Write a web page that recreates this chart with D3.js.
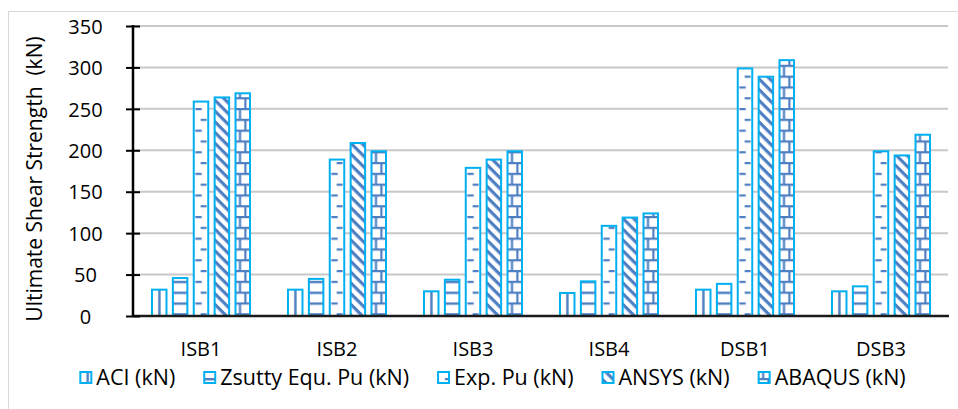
<!DOCTYPE html>
<html>
<head>
<meta charset="utf-8">
<script src="https://cdn.jsdelivr.net/npm/d3@7"></script>
<style>
  html, body { margin: 0; padding: 0; background: #fff; }
  svg { display: block; font-family: "Open Sans", "Noto Sans", sans-serif; }
  text { white-space: pre; fill: #000; }
</style>
</head>
<body>
<svg id="chart" width="958" height="409"></svg>
<script>
// Specimens and the five strength estimates for each one (kN)
const categories = ["ISB1", "ISB2", "ISB3", "ISB4", "DSB1", "DSB3"];
const seriesNames = ["ACI (kN)", "Zsutty Equ. Pu (kN)", "Exp. Pu (kN)", "ANSYS (kN)", "ABAQUS (kN)"];
const aciValues    = [33, 33, 31, 29, 33, 31];
const zsuttyValues = [47, 46, 45, 43, 40, 37];
const expValues    = [260, 190, 180, 110, 300, 200];
const ansysValues  = [265, 210, 190, 120, 290, 195];
const abaqusValues = [270, 200, 200, 125, 310, 220];
const yTicks = [0, 50, 100, 150, 200, 250, 300, 350];
const yTitle = "Ultimate Shear Strength  (kN)";

const seriesValues = [aciValues, zsuttyValues, expValues, ansysValues, abaqusValues];
const patternIds = ["pat-vline", "pat-hline", "pat-dash", "pat-diag", "pat-brick"];

const svg = d3.select("#chart");
const W = 958, H = 409;
const plot = { left: 133, right: 949, top: 26, bottom: 316 };
const edge = "#00b0f0", hatch = "#4d7fc2";

svg.append("rect").attr("width", W).attr("height", H).attr("fill", "#fff");
// outer chart frame
svg.append("rect")
  .attr("x", 8.5).attr("y", 11.5).attr("width", 980).attr("height", 420)
  .attr("fill", "none").attr("stroke", "#d9d9d9").attr("stroke-width", 1);

// hatch patterns, anchored at each bar's left edge
const defs = svg.append("defs");
const P = 10.8;
const pv = defs.append("pattern").attr("id", "pat-vline").attr("patternUnits", "userSpaceOnUse")
  .attr("width", P).attr("height", P);
pv.append("rect").attr("x", 7.2).attr("y", 0).attr("width", 2.4).attr("height", P).attr("fill", hatch);

const ph = defs.append("pattern").attr("id", "pat-hline").attr("patternUnits", "userSpaceOnUse")
  .attr("width", P).attr("height", P);
ph.append("rect").attr("x", 0).attr("y", 0).attr("width", P).attr("height", 2.4).attr("fill", hatch);

const pd = defs.append("pattern").attr("id", "pat-dash").attr("patternUnits", "userSpaceOnUse")
  .attr("width", 2 * P).attr("height", 2 * P);
pd.append("rect").attr("x", 2.5).attr("y", 0).attr("width", 6.5).attr("height", 2.2).attr("fill", hatch);
pd.append("rect").attr("x", 2.5 + P / 2).attr("y", P).attr("width", 6).attr("height", 2.2).attr("fill", hatch);

const D = 7.6;
const pg = defs.append("pattern").attr("id", "pat-diag").attr("patternUnits", "userSpaceOnUse")
  .attr("width", D).attr("height", D).attr("patternTransform", "rotate(45)");
pg.append("rect").attr("x", 0).attr("y", 0).attr("width", D).attr("height", 3.2).attr("fill", hatch);

const pb = defs.append("pattern").attr("id", "pat-brick").attr("patternUnits", "userSpaceOnUse")
  .attr("width", P).attr("height", 2 * P);
pb.append("rect").attr("x", 0).attr("y", 0).attr("width", P).attr("height", 2.2).attr("fill", hatch);
pb.append("rect").attr("x", 0).attr("y", P).attr("width", P).attr("height", 2.2).attr("fill", hatch);
pb.append("rect").attr("x", P / 2 - 1).attr("y", 0).attr("width", 2.2).attr("height", P).attr("fill", hatch);
pb.append("rect").attr("x", -1).attr("y", P).attr("width", 2.2).attr("height", P).attr("fill", hatch);
pb.append("rect").attr("x", P - 1).attr("y", P).attr("width", 2.2).attr("height", P).attr("fill", hatch);

// scales
const y = d3.scaleLinear().domain([0, 350]).range([plot.bottom, plot.top]);
const x0 = d3.scaleBand().domain(categories).range([plot.left, plot.right])
  .paddingInner(0.2647).paddingOuter(0.13235);
const x1 = d3.scaleBand().domain(seriesNames).range([0, x0.bandwidth()]).paddingInner(0.21);

// gridlines
svg.append("g").selectAll("line").data(yTicks.filter(t => t > 0)).join("line")
  .attr("x1", plot.left).attr("x2", plot.right - 1)
  .attr("y1", d => y(d)).attr("y2", d => y(d))
  .attr("stroke", "#c8c8c8").attr("stroke-width", 2);

// bars
const sw = 2;
const groups = svg.append("g").selectAll("g").data(categories).join("g");
groups.each(function (cat, ci) {
  const g = d3.select(this);
  seriesNames.forEach((name, si) => {
    const v = seriesValues[si][ci];
    const bx = x0(cat) + x1(name);
    const bar = g.append("g").attr("transform", `translate(${bx},0)`);
    bar.append("rect")
      .attr("x", sw / 2).attr("y", y(v) + sw / 2)
      .attr("width", x1.bandwidth() - sw).attr("height", y(0) - y(v) - sw / 2)
      .attr("fill", "#fff");
    bar.append("rect")
      .attr("x", sw / 2).attr("y", y(v) + sw / 2)
      .attr("width", x1.bandwidth() - sw).attr("height", y(0) - y(v) - sw / 2)
      .attr("fill", `url(#${patternIds[si]})`)
      .attr("stroke", edge).attr("stroke-width", sw);
  });
});

// baseline
svg.append("line")
  .attr("x1", plot.left).attr("x2", plot.right)
  .attr("y1", y(0)).attr("y2", y(0))
  .attr("stroke", "#1a1a1a").attr("stroke-width", 2.5);

// y axis with cross ticks
const yAxis = d3.axisLeft(y).tickValues(yTicks).tickSize(0).tickFormat(d3.format("d"));
const ya = svg.append("g").attr("transform", `translate(${plot.left},0)`).call(yAxis);
ya.select(".domain").remove();
ya.selectAll(".tick line").remove();
ya.selectAll(".tick").append("line")
  .attr("x1", -7).attr("x2", 7).attr("stroke", "#000").attr("stroke-width", 2);
ya.append("line").attr("x1", 0).attr("x2", 0).attr("y1", plot.top - 1).attr("y2", plot.bottom)
  .attr("stroke", "#000").attr("stroke-width", 2.5);
ya.selectAll(".tick text")
  .attr("x", 85.5 - plot.left).attr("dy", "0.36em")
  .attr("text-anchor", "middle")
  .style("font-family", "'Open Sans', sans-serif").style("font-size", "20px").attr("fill", "#000");

// category labels
const xAxis = d3.axisBottom(x0).tickSize(0).tickPadding(0);
const xa = svg.append("g").attr("transform", `translate(0,${plot.bottom})`).call(xAxis);
xa.select(".domain").remove();
xa.selectAll(".tick text")
  .attr("y", 40).attr("dy", null)
  .style("font-family", "'Open Sans', sans-serif").style("font-size", "20px").attr("fill", "#000");

// axis title
svg.append("text")
  .attr("transform", "translate(41.5,179) rotate(-90)")
  .attr("text-anchor", "middle")
  .style("font-size", "21px")
  .text(yTitle);

// legend
const legend = svg.append("g");
const items = legend.selectAll("g").data(seriesNames).join("g");
items.each(function (name, si) {
  const it = d3.select(this);
  it.append("rect").attr("x", 1).attr("y", 372).attr("width", 11).attr("height", 11).attr("fill", "#fff");
  it.append("rect").attr("x", 1).attr("y", 372).attr("width", 11).attr("height", 11)
    .attr("fill", `url(#${patternIds[si]})`).attr("stroke", edge).attr("stroke-width", 2);
  it.append("text").attr("x", 17).attr("y", 385).style("font-size", "21.5px").text(name);
});
const widths = [];
items.each(function () {
  const w = d3.select(this).select("text").node().getComputedTextLength();
  widths.push(17 + w);
});
const gap = 28;
const total = d3.sum(widths) + gap * (widths.length - 1);
let cursor = 492.5 - total / 2;
items.each(function (d, i) {
  d3.select(this).attr("transform", `translate(${cursor},0)`);
  cursor += widths[i] + gap;
});
</script>
</body>
</html>
